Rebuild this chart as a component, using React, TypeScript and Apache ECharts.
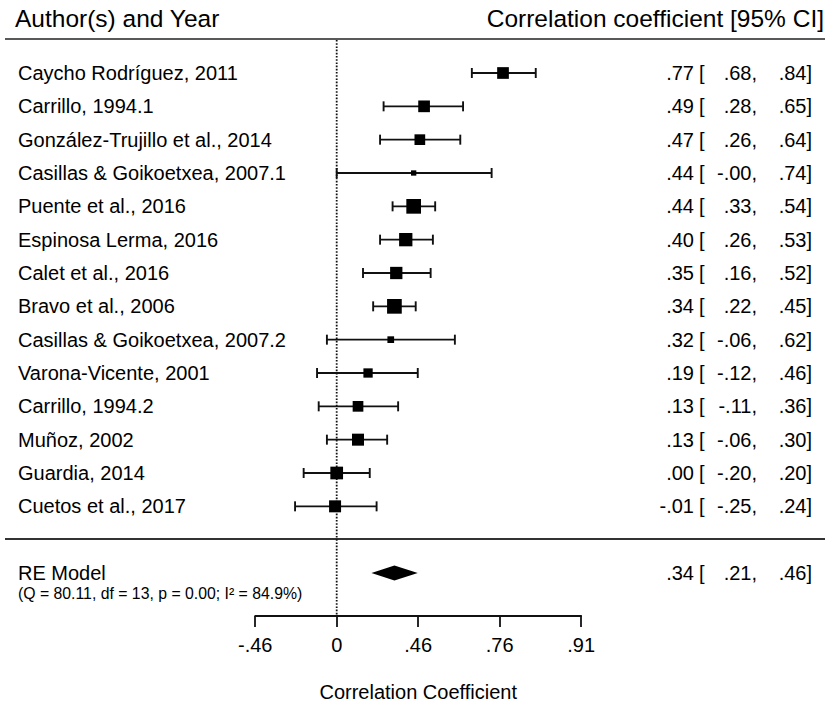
import React, { useEffect, useRef } from "react";
import * as echarts from "echarts";

const studies = [
  "Caycho Rodríguez, 2011",
  "Carrillo, 1994.1",
  "González-Trujillo et al., 2014",
  "Casillas & Goikoetxea, 2007.1",
  "Puente et al., 2016",
  "Espinosa Lerma, 2016",
  "Calet et al., 2016",
  "Bravo et al., 2006",
  "Casillas & Goikoetxea, 2007.2",
  "Varona-Vicente, 2001",
  "Carrillo, 1994.2",
  "Muñoz, 2002",
  "Guardia, 2014",
  "Cuetos et al., 2017",
];
const estimates = [0.77, 0.49, 0.47, 0.44, 0.44, 0.4, 0.35, 0.34, 0.32, 0.19, 0.13, 0.13, 0.0, -0.01];
const lowers = [0.68, 0.28, 0.26, -0.0, 0.33, 0.26, 0.16, 0.22, -0.06, -0.12, -0.11, -0.06, -0.2, -0.25];
const uppers = [0.84, 0.65, 0.64, 0.74, 0.54, 0.53, 0.52, 0.45, 0.62, 0.46, 0.36, 0.3, 0.2, 0.24];
const weights = [11.7, 11.7, 10.7, 5.3, 14.7, 13.3, 12.3, 14.7, 6.7, 9.3, 10.7, 12, 12.7, 12];

const pooledLabel = "RE Model";
const pooledStats = "(Q = 80.11, df = 13, p = 0.00; I² = 84.9%)";
const pooledValues = [0.34, 0.21, 0.46];

const tickZ = [-0.5, 0, 0.5, 1, 1.5];
const tickLabels = ["-.46", "0", ".46", ".76", ".91"];

const headerLeft = "Author(s) and Year";
const headerRight = "Correlation coefficient [95% CI]";
const axisTitle = "Correlation Coefficient";

const FONT = '"Liberation Sans", Arial, Helvetica, sans-serif';
const INK = "#000";

function fmt(v: number): string {
  const neg = v < 0 || Object.is(v, -0);
  return (neg ? "-" : "") + Math.abs(v).toFixed(2).replace(/^0/, "");
}

function textEl(text: string, x: number, y: number, align: string, size: number) {
  return {
    type: "text",
    x,
    y,
    silent: true,
    style: {
      text,
      fill: INK,
      font: `${size}px ${FONT}`,
      align,
      verticalAlign: "middle",
      textAlign: align,
      textVerticalAlign: "middle",
    },
  };
}

function ciTexts(est: number, lo: number, hi: number, y: number) {
  return [
    textEl(fmt(est), 694, y, "right", 20),
    textEl("[", 699, y, "left", 20),
    textEl(fmt(lo) + ",", 757, y, "right", 20),
    textEl(fmt(hi) + "]", 812, y, "right", 20),
  ];
}

export default function App() {
  const ref = useRef<HTMLDivElement>(null);
  useEffect(() => {
    if (!ref.current) return;
    const chart = echarts.init(ref.current, null, { renderer: "svg" });

    const studyData = studies.map((_, i) => [
      i,
      Math.atanh(estimates[i]),
      Math.atanh(lowers[i]),
      Math.atanh(uppers[i]),
      weights[i],
    ]);
    const pooledRow = studies.length + 1;
    const pooledData = [[pooledRow, Math.atanh(pooledValues[0]), Math.atanh(pooledValues[1]), Math.atanh(pooledValues[2])]];

    const lineStyle = { stroke: "#111", lineWidth: 1.9 };

    const option: any = {
      animation: false,
      grid: [
        { left: 10.7, right: 5.3, top: 6.33, bottom: 30, containLabel: false },
        { left: 255.2, right: 249.8, top: 615, height: 1, containLabel: false },
      ],
      xAxis: [
        { type: "value", gridIndex: 0, min: -2, max: 3, show: false },
        {
          type: "value",
          gridIndex: 1,
          min: -0.5,
          max: 1.5,
          interval: 0.5,
          position: "bottom",
          axisLine: { show: true, onZero: false, lineStyle: { color: "#111", width: 1.8 } },
          axisTick: { show: true, inside: false, length: 11, lineStyle: { color: "#111", width: 1.8 } },
          splitLine: { show: false },
          axisLabel: {
            margin: 19,
            fontSize: 20,
            fontFamily: FONT,
            color: INK,
            formatter: (v: number) => {
              const k = tickZ.findIndex((t) => Math.abs(t - v) < 1e-6);
              return k >= 0 ? tickLabels[k] : "";
            },
          },
          name: axisTitle,
          nameLocation: "middle",
          nameGap: 66,
          nameTextStyle: { fontSize: 20, fontFamily: FONT, color: INK },
        },
      ],
      yAxis: [
        { type: "value", gridIndex: 0, min: -2, max: 18, inverse: true, show: false },
        { type: "value", gridIndex: 1, min: 0, max: 1, show: false },
      ],
      graphic: [
        {
          type: "text",
          left: 15,
          top: 6,
          style: { text: headerLeft, font: `24.5px ${FONT}`, fill: INK },
        },
        {
          type: "text",
          right: 7,
          top: 6,
          style: { text: headerRight, font: `24.5px ${FONT}`, fill: INK },
        },
        { type: "line", shape: { x1: 5, y1: 39, x2: 825, y2: 39 }, style: { stroke: "#222", lineWidth: 1.6 } },
        { type: "line", shape: { x1: 5, y1: 539, x2: 825, y2: 539 }, style: { stroke: "#333", lineWidth: 2 } },
      ],
      series: [
        {
          type: "custom",
          name: "reference",
          xAxisIndex: 0,
          yAxisIndex: 0,
          silent: true,
          data: [[0, -0.99, 16.29]],
          renderItem: (params: any, api: any) => {
            const a = api.coord([api.value(0), api.value(1)]);
            const b = api.coord([api.value(0), api.value(2)]);
            return {
              type: "line",
              shape: { x1: a[0], y1: a[1], x2: b[0], y2: b[1] },
              style: { stroke: "#111", lineWidth: 1.8, lineDash: [1.6, 1.6] },
            };
          },
        },
        {
          type: "custom",
          name: "studies",
          xAxisIndex: 0,
          yAxisIndex: 0,
          silent: true,
          data: studyData,
          renderItem: (params: any, api: any) => {
            const idx = params.dataIndex;
            const row = api.value(0);
            const [xE, y] = api.coord([api.value(1), row]);
            const xL = api.coord([api.value(2), row])[0];
            const xH = api.coord([api.value(3), row])[0];
            const s = api.value(4);
            const cap = 5;
            return {
              type: "group",
              children: [
                { type: "line", shape: { x1: xL, y1: y, x2: xH, y2: y }, style: lineStyle },
                { type: "line", shape: { x1: xL, y1: y - cap, x2: xL, y2: y + cap }, style: lineStyle },
                { type: "line", shape: { x1: xH, y1: y - cap, x2: xH, y2: y + cap }, style: lineStyle },
                { type: "rect", shape: { x: xE - s / 2, y: y - s / 2, width: s, height: s }, style: { fill: "#000" } },
                textEl(studies[idx], 18, y, "left", 20),
                ...ciTexts(estimates[idx], lowers[idx], uppers[idx], y),
              ],
            };
          },
        },
        {
          type: "custom",
          name: "pooled",
          xAxisIndex: 0,
          yAxisIndex: 0,
          silent: true,
          data: pooledData,
          renderItem: (params: any, api: any) => {
            const row = api.value(0);
            const [xE, y] = api.coord([api.value(1), row]);
            const xL = api.coord([api.value(2), row])[0];
            const xH = api.coord([api.value(3), row])[0];
            const h = 7.5;
            return {
              type: "group",
              children: [
                {
                  type: "polygon",
                  shape: { points: [[xL, y], [xE, y - h], [xH, y], [xE, y + h]] },
                  style: { fill: "#000" },
                },
                textEl(pooledLabel, 18, y, "left", 20),
                textEl(pooledStats, 18, y + 21, "left", 15.8),
                ...ciTexts(pooledValues[0], pooledValues[1], pooledValues[2], y),
              ],
            };
          },
        },
      ],
    };

    chart.setOption(option);
    return () => chart.dispose();
  }, []);

  return (
    <div
      ref={ref}
      style={{ position: "fixed", left: 0, top: 0, width: 831, height: 703, background: "#fff" }}
    />
  );
}
